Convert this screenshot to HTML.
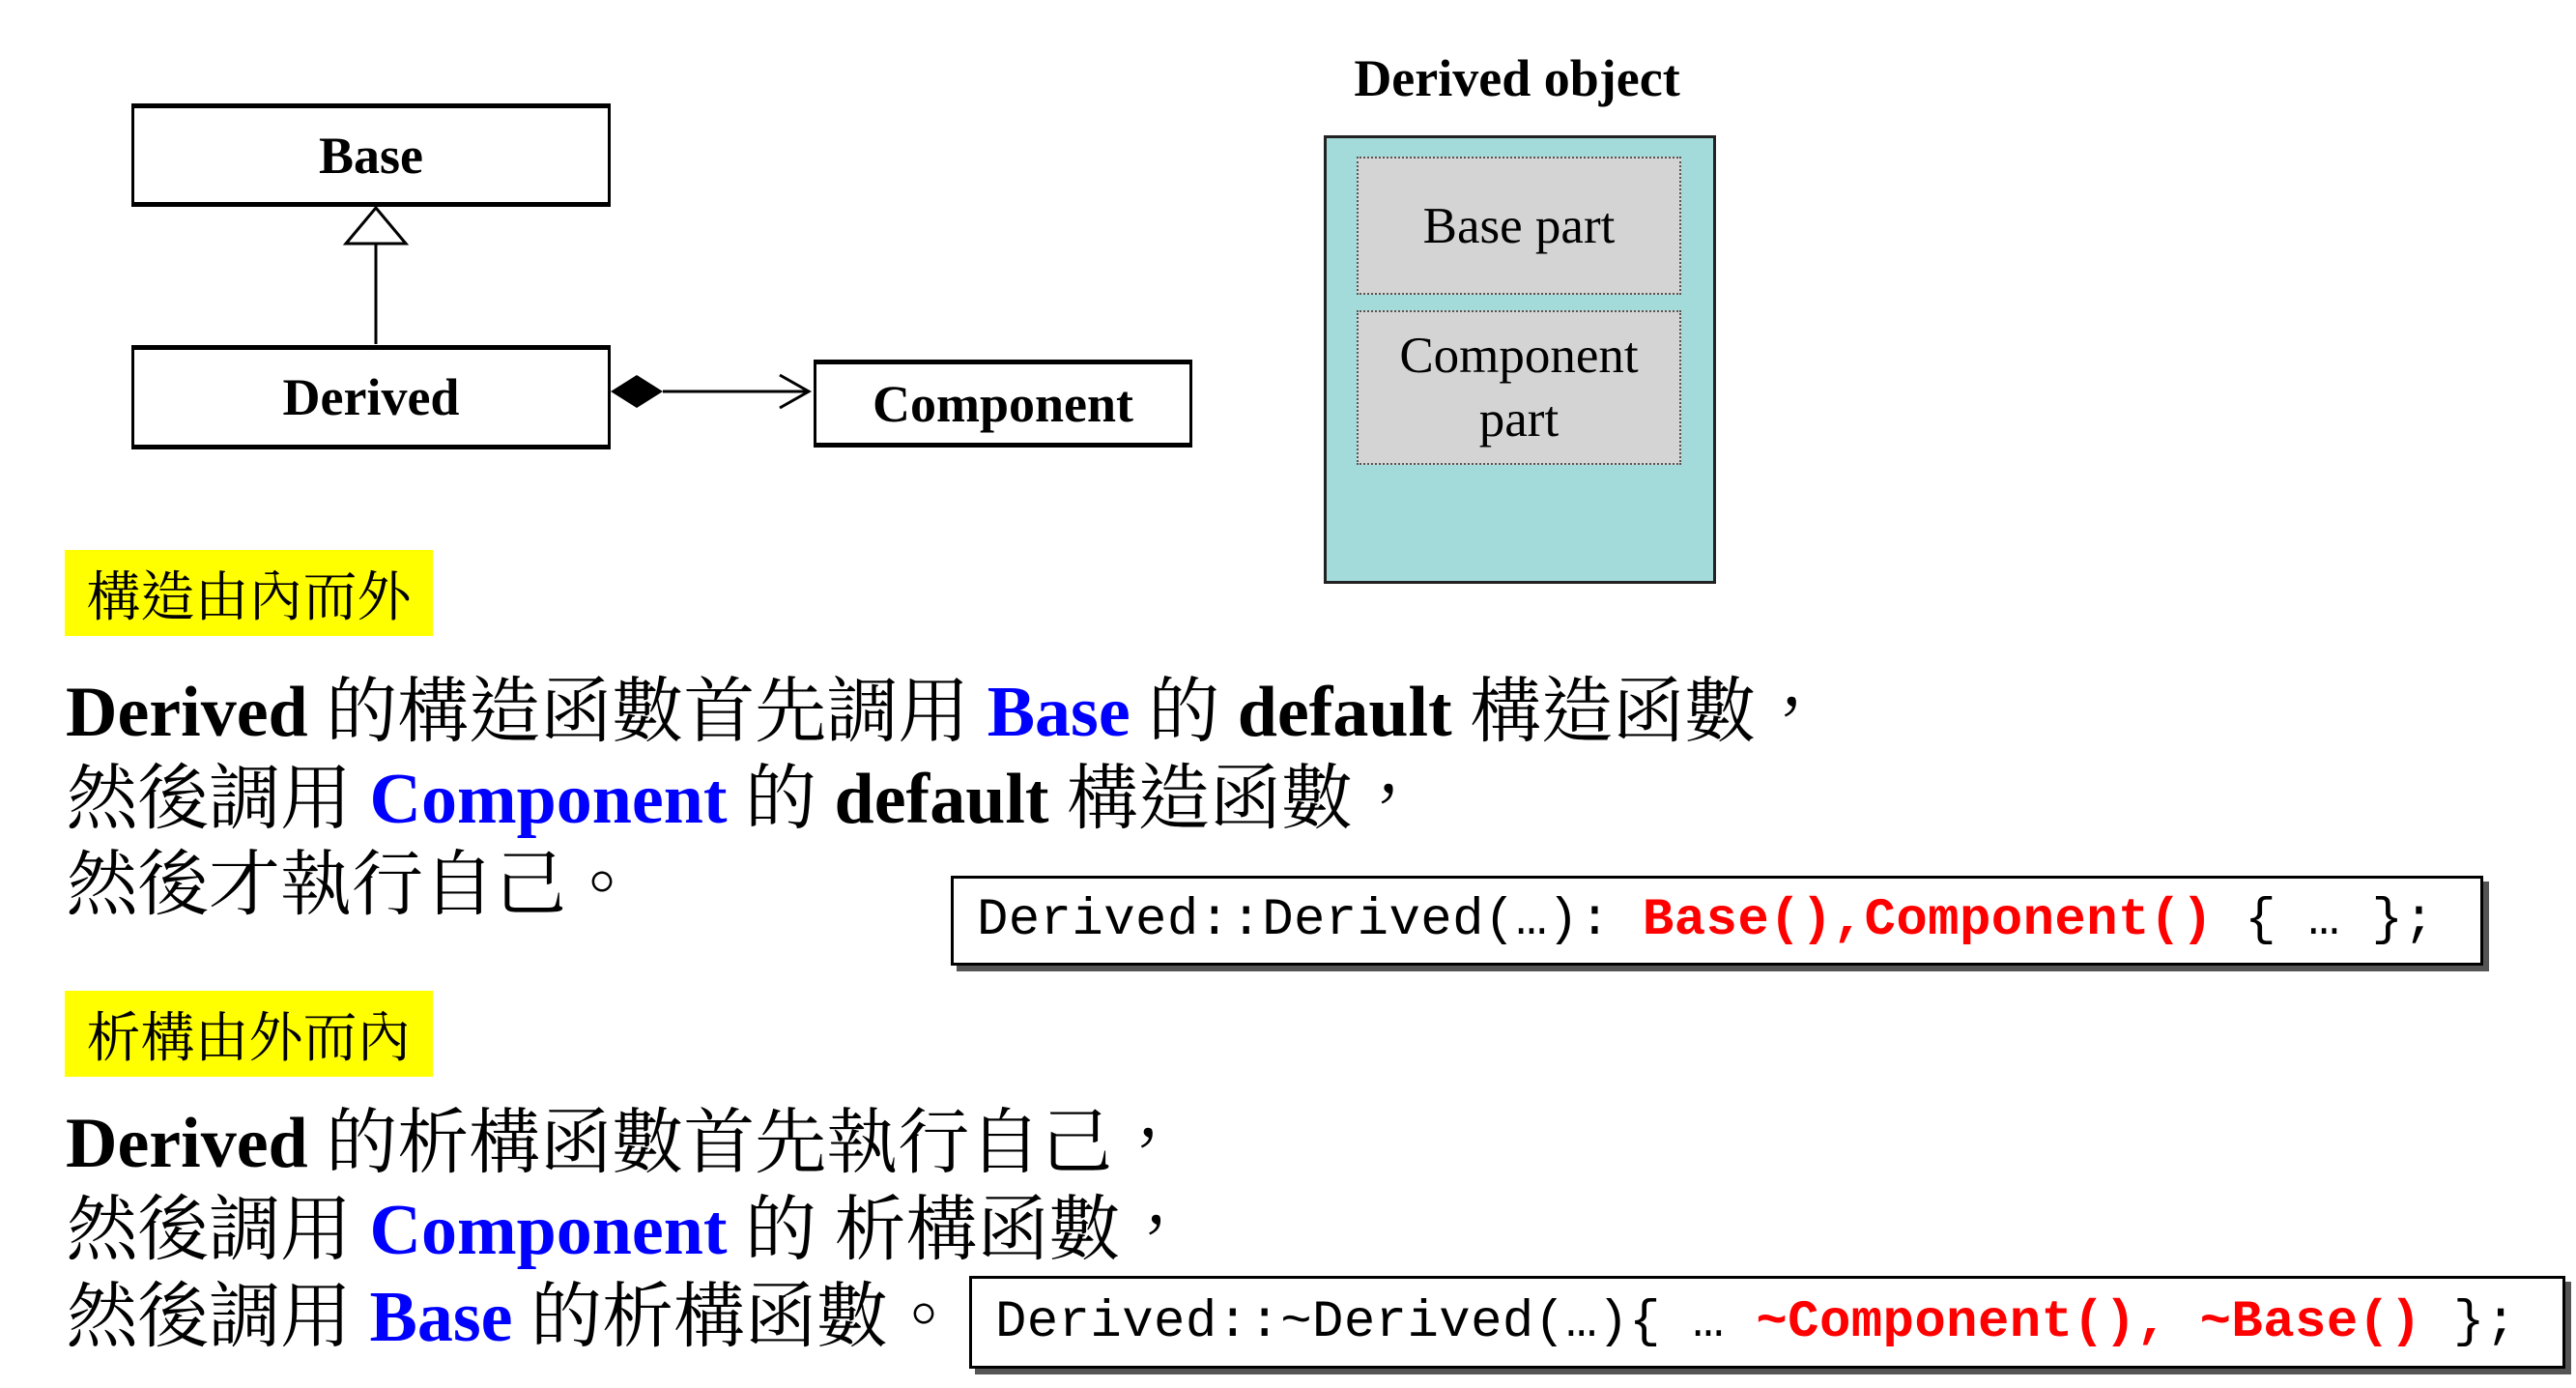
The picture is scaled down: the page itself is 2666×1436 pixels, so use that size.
<!DOCTYPE html>
<html><head><meta charset="utf-8"><style>
body{margin:0;width:2666px;height:1436px;background:#fff;position:relative;overflow:hidden;font-family:"Liberation Serif","Noto Serif CJK TC","Noto Serif CJK SC",serif;}
.a{position:absolute;}
.box{position:absolute;border:3px solid #000;border-top-width:5px;border-bottom-width:5px;background:#fff;display:flex;align-items:center;justify-content:center;font-weight:bold;font-size:54px;box-sizing:border-box;}
.part{position:absolute;background:#d4d4d4;border:2px dotted #555;box-sizing:border-box;display:flex;align-items:center;justify-content:center;text-align:center;font-size:53px;line-height:66px;}
.yl{position:absolute;background:#ffff00;font-size:56px;display:flex;align-items:center;justify-content:center;box-sizing:border-box;}
.ln{position:absolute;left:68px;font-size:74px;white-space:nowrap;line-height:90px;}
.b{font-weight:bold}.bl{color:#0000ff;font-weight:bold}
.code{position:absolute;border:3px solid #000;background:#fff;box-shadow:6px 6px 0 #555;box-sizing:border-box;font-family:"Liberation Mono",monospace;font-size:54px;letter-spacing:0.4px;white-space:nowrap;display:flex;align-items:center;padding-left:24px;}
.r{color:#ff0000;font-weight:bold}
</style></head><body>
<div class="box" style="left:136px;top:107px;width:496px;height:107px;">Base</div>
<div class="box" style="left:136px;top:357px;width:496px;height:108px;">Derived</div>
<div class="box" style="left:842px;top:372px;width:392px;height:91px;">Component</div>
<svg class="a" style="left:0;top:0" width="1300" height="500">
<line x1="389" y1="252" x2="389" y2="356" stroke="#000" stroke-width="3"/>
<polygon points="389,215 358,252 420,252" fill="#fff" stroke="#000" stroke-width="3"/>
<polygon points="632,405 659,388 686,405 659,422" fill="#000"/>
<line x1="686" y1="405" x2="837" y2="405" stroke="#000" stroke-width="3"/>
<polyline points="807,388 837,405 807,422" fill="none" stroke="#000" stroke-width="3"/>
</svg>
<div class="a" style="left:1360px;top:50px;width:420px;text-align:center;font-size:54px;font-weight:bold;">Derived object</div>
<div class="a" style="left:1370px;top:140px;width:406px;height:464px;background:#a3dada;border:3px solid #222;box-sizing:border-box;"></div>
<div class="part" style="left:1404px;top:162px;width:336px;height:143px;">Base part</div>
<div class="part" style="left:1404px;top:321px;width:336px;height:160px;">Component<br>part</div>
<div class="yl" style="left:67px;top:569px;width:381px;height:89px;">構造由內而外</div>
<div class="ln" style="top:692px;"><span class="b">Derived</span> 的構造函數首先調用 <span class="bl">Base</span> 的 <span class="b">default</span> 構造函數，</div>
<div class="ln" style="top:782px;">然後調用 <span class="bl">Component</span> 的 <span class="b">default</span> 構造函數，</div>
<div class="ln" style="top:871px;">然後才執行自己。</div>
<div class="code" style="left:984px;top:906px;width:1586px;height:93px;">Derived::Derived(…):&nbsp;<span class="r">Base(),Component()</span>&nbsp;{&nbsp;…&nbsp;};</div>
<div class="yl" style="left:67px;top:1025px;width:381px;height:89px;">析構由外而內</div>
<div class="ln" style="top:1138px;"><span class="b">Derived</span> 的析構函數首先執行自己，</div>
<div class="ln" style="top:1228px;">然後調用 <span class="bl">Component</span> 的 析構函數，</div>
<div class="ln" style="top:1318px;">然後調用 <span class="bl">Base</span> 的析構函數。</div>
<div class="code" style="left:1003px;top:1320px;width:1652px;height:96px;">Derived::~Derived(…){&nbsp;…&nbsp;<span class="r">~Component(),&nbsp;~Base()</span>&nbsp;};</div>
</body></html>
